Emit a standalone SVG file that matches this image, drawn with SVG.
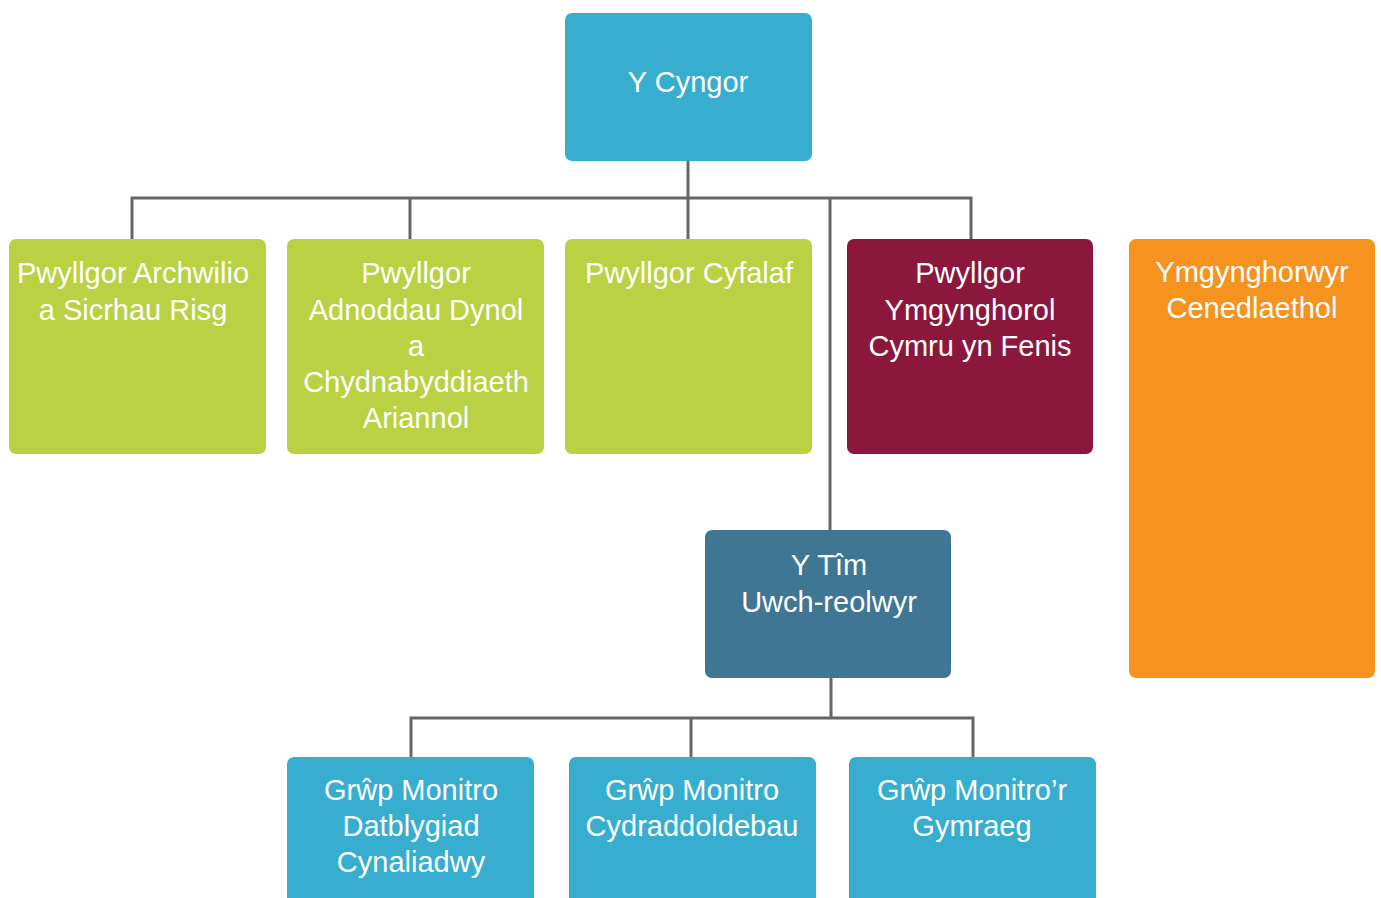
<svg xmlns="http://www.w3.org/2000/svg" width="1381" height="898" viewBox="0 0 1381 898">
<style>
.t{font-family:"Liberation Sans",Arial,sans-serif;font-size:29px;fill:#ffffff;text-anchor:middle}
.c{fill:none;stroke:#666666;stroke-width:3}
.blue{fill:#37AECF}.green{fill:#B9D143}.maroon{fill:#8B173D}.orange{fill:#F6921E}.steel{fill:#3F7694}
</style>
<rect width="1381" height="898" fill="#ffffff"/>
<g id="connectors">
<path class="c" d="M688 161V239M132 239V198H971V239M410 198V239M830 198V530"/>
<path class="c" d="M831 678V718M411 757V718H973V757M691 718V757"/>
</g>
<g id="cyngor"><rect class="blue" x="565" y="13" width="247" height="148" rx="7"/><text class="t" x="688" y="92">Y Cyngor</text></g>
<g id="archwilio"><rect class="green" x="9" y="239" width="257" height="215" rx="7"/><text class="t" x="133" y="283">Pwyllgor Archwilio</text><text class="t" x="133" y="320">a Sicrhau Risg</text></g>
<g id="adnoddau"><rect class="green" x="287" y="239" width="257" height="215" rx="7"/><text class="t" x="416" y="283">Pwyllgor</text><text class="t" x="416" y="320">Adnoddau Dynol</text><text class="t" x="416" y="356">a</text><text class="t" x="416" y="392">Chydnabyddiaeth</text><text class="t" x="416" y="428">Ariannol</text></g>
<g id="cyfalaf"><rect class="green" x="565" y="239" width="247" height="215" rx="7"/><text class="t" x="689" y="283">Pwyllgor Cyfalaf</text></g>
<g id="fenis"><rect class="maroon" x="847" y="239" width="246" height="215" rx="7"/><text class="t" x="970" y="283">Pwyllgor</text><text class="t" x="970" y="320">Ymgynghorol</text><text class="t" x="970" y="356">Cymru yn Fenis</text></g>
<g id="ymgynghorwyr"><rect class="orange" x="1129" y="239" width="246" height="439" rx="7"/><text class="t" x="1252" y="282">Ymgynghorwyr</text><text class="t" x="1252" y="318">Cenedlaethol</text></g>
<g id="tim"><rect class="steel" x="705" y="530" width="246" height="148" rx="7"/><text class="t" x="829" y="575">Y Tîm</text><text class="t" x="829" y="612">Uwch-reolwyr</text></g>
<g id="datblygiad"><rect class="blue" x="287" y="757" width="247" height="150" rx="7"/><text class="t" x="411" y="800">Grŵp Monitro</text><text class="t" x="411" y="836">Datblygiad</text><text class="t" x="411" y="872">Cynaliadwy</text></g>
<g id="cydraddoldebau"><rect class="blue" x="569" y="757" width="247" height="150" rx="7"/><text class="t" x="692" y="800">Grŵp Monitro</text><text class="t" x="692" y="836">Cydraddoldebau</text></g>
<g id="gymraeg"><rect class="blue" x="849" y="757" width="247" height="150" rx="7"/><text class="t" x="972" y="800">Grŵp Monitro’r</text><text class="t" x="972" y="836">Gymraeg</text></g>
</svg>
